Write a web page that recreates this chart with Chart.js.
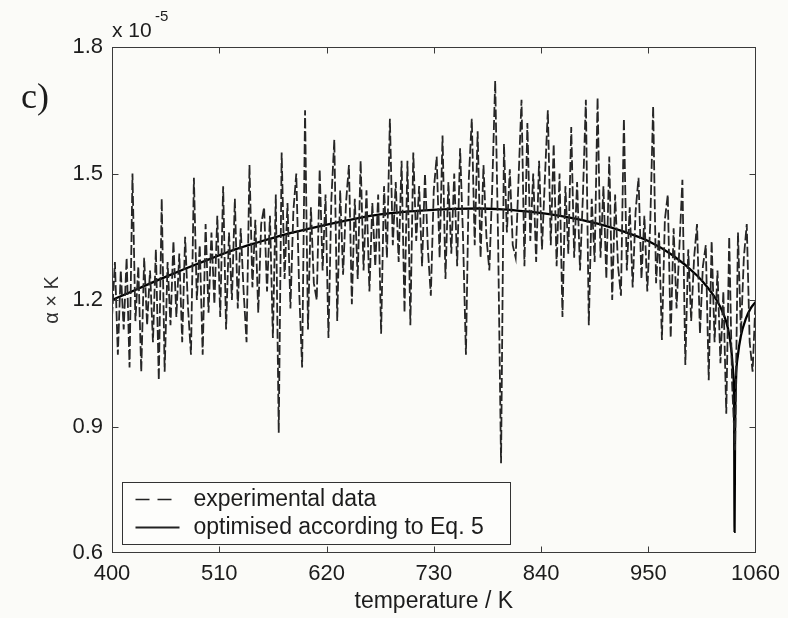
<!DOCTYPE html>
<html><head><meta charset="utf-8">
<script src="https://cdn.jsdelivr.net/npm/chart.js@4.4.0/dist/chart.umd.min.js"></script>
<style>html,body{margin:0;padding:0;background:#fbfbf8;}</style>
</head><body>
<canvas id="c" width="788" height="618" style="display:block;width:788px;height:618px"></canvas>
<script>
// ---- data ----
const expTemp = [400,403,406,409,412,415,418,421,424,427,
430,433,436,439,442,445,448,451,454,457,
460,463,466,469,472,475,478,481,484,487,
490,493,496,499,502,505,508,511,514,517,
520,523,526,529,532,535,538,541,544,547,
550,553,556,559,562,565,568,571,574,577,
580,583,586,589,592,595,598,601,604,607,
610,613,616,619,622,625,628,631,634,637,
640,643,646,649,652,655,658,661,664,667,
670,673,676,679,682,685,688,691,694,697,
700,703,706,709,712,715,718,721,724,727,
730,733,736,739,742,745,748,751,754,757,
760,763,766,769,772,775,778,781,784,787,
790,793,796,799,802,805,808,811,814,817,
820,823,826,829,832,835,838,841,844,847,
850,853,856,859,862,865,868,871,874,877,
880,883,886,889,892,895,898,901,904,907,
910,913,916,919,922,925,928,931,934,937,
940,943,946,949,952,955,958,961,964,967,
970,973,976,979,982,985,988,991,994,997,
1000,1003,1006,1009,1012,1015,1018,1021,1024,1027,
1030,1033,1036,1039,1042,1045,1048,1051,1054,1057,1060];
const expAlpha = [1.16,1.29,1.07,1.27,1.13,1.30,1.04,1.50,1.15,1.28,
1.03,1.30,1.14,1.27,1.10,1.32,1.01,1.44,1.03,1.29,
1.14,1.34,1.16,1.31,1.10,1.35,1.18,1.07,1.49,1.20,
1.33,1.07,1.38,1.17,1.36,1.19,1.40,1.16,1.47,1.13,
1.36,1.20,1.44,1.18,1.37,1.22,1.10,1.52,1.23,1.39,
1.17,1.38,1.42,1.22,1.40,1.11,1.45,0.885,1.55,1.25,
1.43,1.18,1.41,1.50,1.22,1.04,1.65,1.13,1.42,1.24,
1.20,1.51,1.27,1.45,1.11,1.44,1.58,1.15,1.46,1.26,
1.43,1.52,1.19,1.44,1.25,1.53,1.27,1.46,1.22,1.43,
1.28,1.45,1.12,1.47,1.30,1.63,1.33,1.48,1.29,1.53,
1.17,1.53,1.14,1.55,1.34,1.47,1.28,1.50,1.32,1.21,
1.46,1.54,1.30,1.59,1.25,1.48,1.31,1.50,1.28,1.56,
1.35,1.07,1.49,1.63,1.33,1.60,1.30,1.52,1.35,1.27,
1.47,1.72,1.34,0.813,1.57,1.36,1.51,1.33,1.30,1.49,
1.675,1.28,1.62,1.34,1.50,1.29,1.53,1.32,1.49,1.65,
1.33,1.57,1.28,1.50,1.16,1.47,1.31,1.61,1.30,1.48,
1.27,1.45,1.675,1.14,1.44,1.29,1.68,1.30,1.47,1.25,
1.54,1.20,1.45,1.28,1.21,1.63,1.27,1.42,1.23,1.41,
1.49,1.25,1.40,1.22,1.38,1.66,1.24,1.36,1.105,1.39,
1.45,1.11,1.37,1.18,1.33,1.485,1.046,1.32,1.15,1.30,
1.38,1.12,1.28,1.33,1.01,1.34,1.10,1.27,1.05,1.22,
0.93,1.35,1.00,0.844,1.36,1.12,1.30,1.38,1.10,1.03,1.20];
const fitTemp = [400,425,450,475,500,525,550,575,600,625,650,675,700,725,750,775,800,825,850,875,900,925,950,975,1000,1010,1020,1025,1030,1033,1035,1036,1037,1038,1038.5,1039,1040,1042,1045,1050,1055,1060];
const fitAlpha = [1.200,1.225,1.250,1.274,1.297,1.319,1.337,1.354,1.368,1.381,1.393,1.403,1.409,1.413,1.416,1.417,1.415,1.410,1.403,1.393,1.380,1.362,1.340,1.306,1.258,1.232,1.200,1.178,1.148,1.118,1.085,1.060,1.030,0.960,0.650,0.880,1.010,1.070,1.115,1.155,1.180,1.195];
const xTicks = [400,510,620,730,840,950,1060];
const yTicks = [0.6,0.9,1.2,1.5,1.8];
const seriesNames = ['experimental data','optimised according to Eq. 5'];
const xTitle = 'temperature / K';
const yTitle = 'α × K';
const panelLabel = 'c)';

const SANS = '"Liberation Sans", Arial, Helvetica, sans-serif';
const TXT = '#1c1c1c';

const decor = {
  id: 'decor',
  afterDatasetsDraw(chart) {
    const {ctx, chartArea: a, scales: {x, y}} = chart;
    ctx.save();
    ctx.strokeStyle = '#3a3a3a';
    ctx.lineWidth = 1;
    const L = Math.round(a.left) + 0.5, R = Math.round(a.right) - 0.5;
    const T = Math.round(a.top) + 0.5, B = Math.round(a.bottom) - 0.5;
    ctx.strokeRect(L, T, R - L, B - T);
    ctx.beginPath();
    xTicks.slice(1, -1).forEach(v => {
      const p = Math.round(x.getPixelForValue(v)) + 0.5;
      ctx.moveTo(p, B); ctx.lineTo(p, B - 6);
      ctx.moveTo(p, T); ctx.lineTo(p, T + 6);
    });
    yTicks.slice(1, -1).forEach(v => {
      const p = Math.round(y.getPixelForValue(v)) + 0.5;
      ctx.moveTo(L, p); ctx.lineTo(L + 6, p);
      ctx.moveTo(R, p); ctx.lineTo(R - 6, p);
    });
    ctx.stroke();

    // legend
    const bx = Math.round(a.left) + 10.5, by = Math.round(a.bottom) - 70.5, bw = 388, bh = 62;
    ctx.fillStyle = '#fdfdfb';
    ctx.fillRect(bx, by, bw, bh);
    ctx.strokeStyle = '#333';
    ctx.strokeRect(bx, by, bw, bh);
    const rows = [by + 17, by + 45];
    ctx.lineWidth = 1.6;
    ctx.strokeStyle = '#222';
    ctx.setLineDash([14, 8]);
    ctx.beginPath(); ctx.moveTo(bx + 13, rows[0]); ctx.lineTo(bx + 57, rows[0]); ctx.stroke();
    ctx.setLineDash([]);
    ctx.lineWidth = 2;
    ctx.beginPath(); ctx.moveTo(bx + 13, rows[1]); ctx.lineTo(bx + 57, rows[1]); ctx.stroke();
    ctx.fillStyle = TXT;
    ctx.font = '23px ' + SANS;
    ctx.textBaseline = 'middle';
    ctx.textAlign = 'left';
    ctx.fillText(seriesNames[0], bx + 71, rows[0]);
    ctx.fillText(seriesNames[1], bx + 71, rows[1]);

    // exponent label
    ctx.font = '21px ' + SANS;
    ctx.fillText('x 10', 112, 31);
    ctx.font = '15px ' + SANS;
    ctx.fillText('-5', 155, 17);
    // panel label
    ctx.font = '36px "Liberation Serif", "Times New Roman", serif';
    ctx.fillText(panelLabel, 21, 99);
    ctx.restore();
  }
};

new Chart(document.getElementById('c'), {
  type: 'line',
  data: {
    datasets: [
      {
        label: seriesNames[0],
        data: expTemp.map((t, i) => ({x: t, y: expAlpha[i]})),
        borderColor: '#262626',
        borderWidth: 1.8,
        borderDash: [10, 3],
        pointRadius: 0,
        tension: 0,
        fill: false
      },
      {
        label: seriesNames[1],
        data: fitTemp.map((t, i) => ({x: t, y: fitAlpha[i]})),
        borderColor: '#000',
        borderWidth: 2.3,
        pointRadius: 0,
        cubicInterpolationMode: 'monotone',
        fill: false
      }
    ]
  },
  options: {
    responsive: false,
    animation: false,
    devicePixelRatio: 1,
    layout: {padding: {left: 0, right: 32, top: 47, bottom: 0}},
    plugins: {legend: {display: false}, tooltip: {enabled: false}},
    scales: {
      x: {
        type: 'linear', min: 400, max: 1060,
        afterFit: s => { s.height = 65; },
        afterBuildTicks: s => { s.ticks = xTicks.map(v => ({value: v})); },
        grid: {display: false, drawTicks: false},
        border: {display: false},
        ticks: {color: TXT, font: {family: SANS, size: 22}, padding: 8, maxRotation: 0, autoSkip: false,
                callback: v => String(v)},
        title: {display: true, text: xTitle, color: TXT, font: {family: SANS, size: 23}, padding: {top: 0, bottom: 3}}
      },
      y: {
        type: 'linear', min: 0.6, max: 1.8,
        afterFit: s => { s.width = 112; },
        afterBuildTicks: s => { s.ticks = yTicks.map(v => ({value: v})); },
        grid: {display: false, drawTicks: false},
        border: {display: false},
        ticks: {color: TXT, font: {family: SANS, size: 22}, padding: 9, autoSkip: false,
                callback: v => Number(v).toFixed(1)},
        title: {display: true, text: yTitle, color: '#333', font: {family: SANS, size: 20}, padding: {top: 40, bottom: 0}}
      }
    }
  },
  plugins: [decor]
});
</script>
</body></html>
